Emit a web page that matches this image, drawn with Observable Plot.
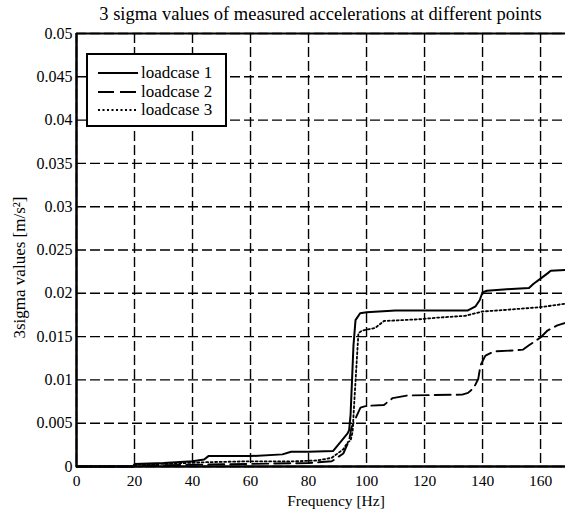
<!DOCTYPE html>
<html><head><meta charset="utf-8">
<script src="https://cdn.jsdelivr.net/npm/d3@7"></script>
<script src="https://cdn.jsdelivr.net/npm/@observablehq/plot@0.6"></script>
<style>
body{margin:0;background:#fff;}
#wrap{position:relative;width:565px;height:512px;overflow:hidden;font-family:"Liberation Serif","Times New Roman",serif;color:#000;}
#title{position:absolute;left:76px;width:489px;top:3px;text-align:center;font-size:18.5px;line-height:22px;white-space:nowrap;}
#chart{position:absolute;left:0;top:28px;}
#legend{position:absolute;left:86px;top:53px;width:137px;height:70px;border:2.5px solid #000;background:#fff;font-size:17px;}
.row{position:absolute;left:0;height:18px;line-height:18px;white-space:nowrap;}
.row svg{position:absolute;left:10px;top:0;}
.row span{position:absolute;left:53px;top:0;}
</style></head>
<body>
<div id="wrap">
  <div id="title"></div>
  <div id="chart"></div>
  <div id="legend"></div>
</div>
<script>
const titleText = "3 sigma values of measured accelerations at different points";
const xLabel = "Frequency [Hz]";
const yLabel = "3sigma values [m/s²]";
const seriesNames = ["loadcase 1", "loadcase 2", "loadcase 3"];
const xTicks = [0, 20, 40, 60, 80, 100, 120, 140, 160];
const yTicks = [0, 0.005, 0.01, 0.015, 0.02, 0.025, 0.03, 0.035, 0.04, 0.045, 0.05];

// loadcase 1 (solid)
const f1 = [0, 19.5, 20, 30, 40, 44, 45.5, 60, 71, 74, 80, 88.5, 90, 93.4, 94, 94.5, 95, 95.5, 96.2, 97.8, 100, 110, 125, 134.8, 137.6, 139, 140, 141.5, 150, 156, 157.6, 160, 162.4, 163.5, 168.6];
const v1 = [0, 0, 0.0003, 0.0004, 0.0006, 0.0008, 0.0012, 0.0012, 0.0014, 0.0017, 0.0017, 0.0018, 0.0024, 0.0038, 0.0042, 0.006, 0.010, 0.014, 0.0169, 0.0177, 0.0178, 0.0180, 0.0180, 0.0180, 0.0185, 0.0192, 0.0201, 0.0203, 0.0205, 0.0206, 0.0211, 0.0217, 0.0223, 0.0226, 0.0227];
// loadcase 2 (dashed)
const f2 = [0, 19.5, 20, 40, 60, 80, 88, 92, 94, 94.8, 97.9, 100, 106, 109, 114, 133, 135, 137, 138.5, 139.3, 141, 144, 151, 154, 156, 160, 162.4, 165.8, 168.6];
const v2 = [0, 0, 0.0001, 0.0002, 0.0003, 0.0004, 0.0006, 0.0015, 0.003, 0.0045, 0.0068, 0.0070, 0.0071, 0.0079, 0.0082, 0.0083, 0.0085, 0.0091, 0.0101, 0.0117, 0.0128, 0.0133, 0.0134, 0.0135, 0.0140, 0.0149, 0.0157, 0.0163, 0.0166];
// loadcase 3 (dotted)
const f3 = [0, 19.5, 20, 30, 45, 60, 75, 83, 88, 92, 93.5, 94.5, 95.2, 95.8, 97.2, 98.5, 103, 106, 118, 125, 134, 140, 148.6, 160, 168.6];
const v3 = [0, 0, 0.0002, 0.0003, 0.0005, 0.0006, 0.0006, 0.0007, 0.0010, 0.0020, 0.0028, 0.0030, 0.0040, 0.0076, 0.0154, 0.0157, 0.0160, 0.0168, 0.0170, 0.0172, 0.0174, 0.0179, 0.0181, 0.0184, 0.0188];

const toRows = (f, v) => f.map((x, i) => ({f: x, v: v[i]}));
const lc1 = toRows(f1, v1), lc2 = toRows(f2, v2), lc3 = toRows(f3, v3);
const dashes = [null, "16,6", "2,2.5"];
const widths = [2, 1.9, 1.8];

document.getElementById("title").textContent = titleText;

const grid = {stroke: "#000", strokeOpacity: 1, strokeDasharray: "10,4", strokeWidth: 1.4};
const chart = Plot.plot({
  width: 565, height: 484,
  marginLeft: 76, marginRight: 0, marginTop: 5, marginBottom: 46,
  x: {domain: [0, 168.6]},
  y: {domain: [0, 0.05]},
  style: {fontFamily: '"Liberation Serif","Times New Roman",serif', fontSize: "16px", color: "#000", background: "transparent", overflow: "visible"},
  marks: [
    Plot.gridX(xTicks, grid),
    Plot.gridY(yTicks, grid),
    Plot.axisX(xTicks, {tickSize: 0, tickPadding: 8, label: null, fontSize: 15.5, tickFormat: d => String(d)}),
    Plot.axisY(yTicks, {tickSize: 0, tickPadding: 4, label: null, tickFormat: d => String(+d.toFixed(3))}),
    Plot.line(lc3, {x: "f", y: "v", stroke: "#000", strokeWidth: widths[2], strokeDasharray: dashes[2]}),
    Plot.line(lc2, {x: "f", y: "v", stroke: "#000", strokeWidth: widths[1], strokeDasharray: dashes[1]}),
    Plot.line(lc1, {x: "f", y: "v", stroke: "#000", strokeWidth: widths[0]}),
    Plot.ruleX([0], {stroke: "#000", strokeWidth: 2.5}),
    Plot.ruleY([0], {stroke: "#000", strokeWidth: 2.5}),
    Plot.ruleY([0.05], {stroke: "#000", strokeWidth: 2.2}),
    Plot.text([xLabel], {frameAnchor: "bottom", lineAnchor: "middle", dx: 15, dy: 35, fontSize: 15.5, fill: "#000"}),
    Plot.text([yLabel], {frameAnchor: "bottom-left", lineAnchor: "middle", textAnchor: "start", rotate: -90, dx: -56.5, dy: -128, fontSize: 17, fill: "#000"})
  ]
});
document.getElementById("chart").appendChild(chart);

// legend
const legend = document.getElementById("legend");
const rowTops = [8.5, 27.5, 45.5];
seriesNames.forEach((name, i) => {
  const row = document.createElement("div");
  row.className = "row";
  row.style.top = rowTops[i] + "px";
  const ns = "http://www.w3.org/2000/svg";
  const svg = document.createElementNS(ns, "svg");
  svg.setAttribute("width", 41); svg.setAttribute("height", 18);
  const ln = document.createElementNS(ns, "line");
  ln.setAttribute("x1", 0); ln.setAttribute("x2", 40);
  ln.setAttribute("y1", 9); ln.setAttribute("y2", 9);
  ln.setAttribute("stroke", "#000"); ln.setAttribute("stroke-width", widths[i]);
  if (dashes[i]) ln.setAttribute("stroke-dasharray", dashes[i]);
  svg.appendChild(ln);
  const sp = document.createElement("span");
  sp.textContent = name;
  row.appendChild(svg); row.appendChild(sp);
  legend.appendChild(row);
});
</script>
</body></html>
